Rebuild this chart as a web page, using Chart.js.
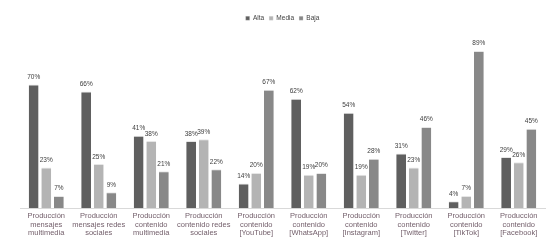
<!DOCTYPE html>
<html lang="es">
<head>
    <meta charset="UTF-8">
    <title>Producción de contenido</title>
    <script src="https://cdn.jsdelivr.net/npm/chart.js"></script>
    <style>
        body { margin: 0; background: #fff; }
    </style>
</head>
<body>
    <canvas id="myChart" width="557" height="246"></canvas>
    <script>
        const ctx = document.getElementById('myChart').getContext('2d');

        // Data
        const labels = [
            ['Producción', 'mensajes', 'multimedia'],
            ['Producción', 'mensajes redes', 'sociales'],
            ['Producción', 'contenido', 'multimedia'],
            ['Producción', 'contenido redes', 'sociales'],
            ['Producción', 'contenido', '[YouTube]'],
            ['Producción', 'contenido', '[WhatsApp]'],
            ['Producción', 'contenido', '[Instagram]'],
            ['Producción', 'contenido', '[Twitter]'],
            ['Producción', 'contenido', '[TikTok]'],
            ['Producción', 'contenido', '[Facebook]']
        ];
        const alta = [70, 66, 41, 38, 14, 62, 54, 31, 4, 29];
        const media = [23, 25, 38, 39, 20, 19, 19, 23, 7, 26];
        const baja = [7, 9, 21, 22, 67, 20, 28, 46, 89, 45];

        // Draw the % value above each bar
        const valueLabels = {
            id: 'valueLabels',
            afterDatasetsDraw: (chart) => {
                const c = chart.ctx;
                c.save();
                c.font = '6.5px "Liberation Sans", Arial, sans-serif';
                c.fillStyle = '#404040';
                c.textAlign = 'center';
                c.textBaseline = 'bottom';
                chart.data.datasets.forEach((ds, i) => {
                    chart.getDatasetMeta(i).data.forEach((bar, j) => {
                        c.fillText(ds.data[j] + '%', bar.x, bar.y - 4);
                    });
                });
                c.restore();
            }
        };

        const chart = new Chart(ctx, {
            type: 'bar',
            data: {
                labels: labels,
                datasets: [
                    { label: 'Alta', data: alta, backgroundColor: '#5f5f5f' },
                    { label: 'Media', data: media, backgroundColor: '#b4b4b4' },
                    { label: 'Baja', data: baja, backgroundColor: '#888888' }
                ]
            },
            options: {
                responsive: false,
                animation: false,
                layout: { padding: { left: 20, right: 12, top: 10, bottom: 5 } },
                datasets: {
                    bar: {
                        barPercentage: 0.78,
                        categoryPercentage: 0.72,
                        borderColor: '#e6e6e6',
                        borderWidth: { top: 1, left: 0, right: 0, bottom: 0 }
                    }
                },
                plugins: {
                    legend: {
                        position: 'top',
                        labels: {
                            boxWidth: 4,
                            boxHeight: 4,
                            padding: 5,
                            color: '#404040',
                            font: { size: 6.5, family: '"Liberation Sans", Arial, sans-serif' }
                        }
                    },
                    tooltip: { enabled: false }
                },
                scales: {
                    x: {
                        grid: { display: false, drawTicks: false },
                        border: { color: '#d9d9d9' },
                        ticks: {
                            maxRotation: 0,
                            autoSkip: false,
                            padding: 4,
                            color: '#735f6b',
                            font: { size: 7.5, family: '"Liberation Sans", Arial, sans-serif', lineHeight: 1.1 }
                        }
                    },
                    y: {
                        display: false,
                        min: 0,
                        max: 100
                    }
                }
            },
            plugins: [valueLabels]
        });
    </script>
</body>
</html>
